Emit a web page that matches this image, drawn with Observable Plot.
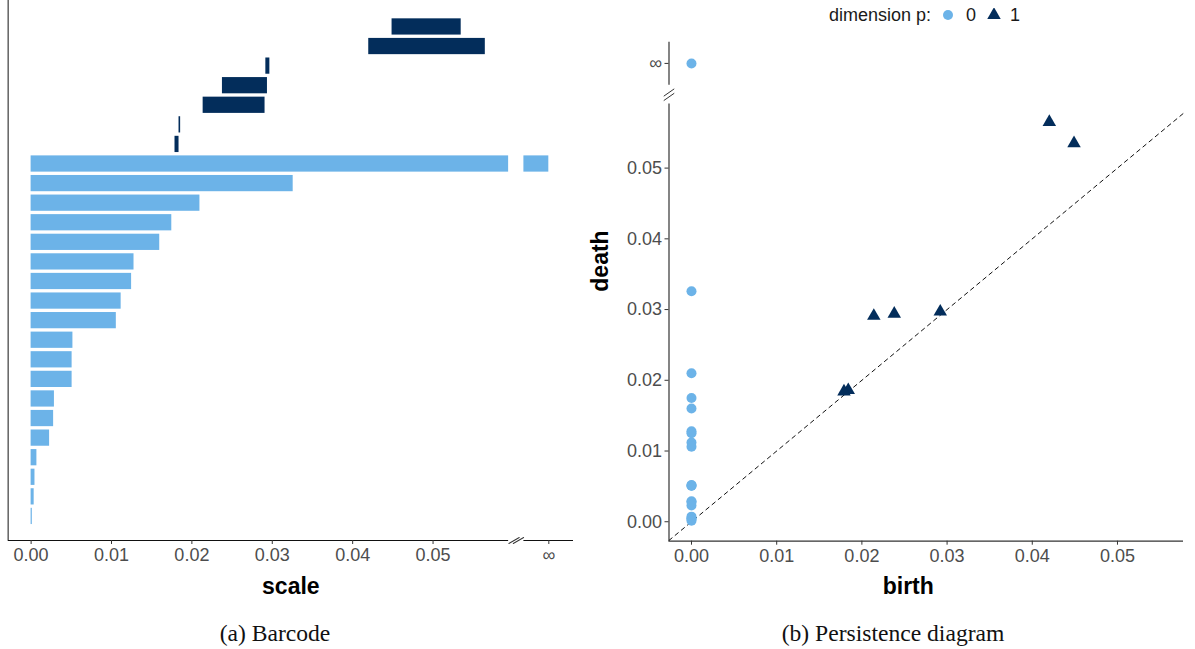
<!DOCTYPE html>
<html>
<head>
<meta charset="utf-8">
<script src="https://cdn.jsdelivr.net/npm/d3@7"></script>
<script src="https://cdn.jsdelivr.net/npm/@observablehq/plot@0.6"></script>
<style>
  body { margin: 0; background: #fff; font-family: "Liberation Sans", Arial, sans-serif; }
  #wrap { position: relative; width: 1195px; height: 649px; overflow: hidden; background: #fff; }
  #left { position: absolute; left: 0; top: 0; }
  #right { position: absolute; left: 595px; top: 30px; }
  .cap { position: absolute; top: 619px; font-family: "Liberation Serif", "Times New Roman", serif; font-size: 23.6px; line-height: 28px; color: #111; transform: translateX(-50%); white-space: nowrap; }
  #legend { position: absolute; left: 829px; top: 3px; height: 24px; display: flex; align-items: center; font-size: 18px; color: #1a1a1a; }
</style>
</head>
<body>
<div id="wrap">
  <div id="left"></div>
  <div id="legend"></div>
  <div id="right"></div>
  <div class="cap" style="left:275px">(a) Barcode</div>
  <div class="cap" style="left:893px">(b) Persistence diagram</div>
</div>
<script>
// ---------- data ----------
const dims = ["0", "1"];
// dimension 1 features (birth, death)
const h1Birth = [0.0449, 0.0420, 0.0292, 0.0238, 0.0214, 0.0184, 0.0179];
const h1Death = [0.0535, 0.0565, 0.0297, 0.0294, 0.0291, 0.0186, 0.0184];
// dimension 0 features (birth, death)
const h0Birth = [0, 0, 0, 0, 0, 0, 0, 0, 0, 0, 0, 0, 0, 0, 0, 0, 0, 0, 0];
const h0Death = [Infinity, 0.0326, 0.0210, 0.0175, 0.0160, 0.0128, 0.0125, 0.0112, 0.0106,
                 0.0052, 0.0051, 0.0051, 0.0029, 0.0028, 0.0023, 0.00072, 0.00048, 0.00038, 0.00015];
const xTicks = [0, 0.01, 0.02, 0.03, 0.04, 0.05];
const yTicks = [0, 0.01, 0.02, 0.03, 0.04, 0.05];
const infLabel = "\u221E";

// ---------- styles / layout ----------
const light = "#6CB3E8";
const dark = "#032D5B";
const tickFill = "#4d4d4d";
const font = "'Liberation Sans', Arial, sans-serif";
const tickFont = 18;

// left (barcode) scale layout, in data units
const xDomainL = [-0.00285, 0.06747];
const breakLo = 0.0594, breakHi = 0.0613, infX = 0.0644;
// right (diagram) scale layout, in data units
const xDomainR = [-0.00264, 0.05775];
const yDomainR = [-0.00275, 0.0678];
const yBreakLo = 0.05905, yBreakHi = 0.0617, infY = 0.0648;

const fmt = d3.format(".2f");
const slash = { draw(ctx, l) { ctx.moveTo(0, 0); ctx.lineTo(0, -l); } };
const breakMarks = (x, y, horizontal, rot) => [-2.2, 2.2].map(o =>
  Plot.vector([0], { x, y, dx: horizontal ? o : 0, dy: horizontal ? 0 : o,
    length: 12, rotate: rot, anchor: "middle", shape: slash, stroke: "#333", strokeWidth: 0.9 }));

// ---------- barcode ----------
const bars = [];
h1Birth.forEach((b, i) => bars.push({ row: i + 1, x1: b, x2: h1Death[i], dim: "1" }));
h0Death.forEach((d, i) => {
  const row = h1Birth.length + i + 1;
  if (d === Infinity) {
    bars.push({ row, x1: h0Birth[i], x2: breakLo, dim: "0" });
    bars.push({ row, x1: breakHi, x2: infX, dim: "0" });
  } else {
    bars.push({ row, x1: h0Birth[i], x2: d, dim: "0" });
  }
});
const nRows = h1Birth.length + h0Death.length;
const yBottomL = nRows + 1.229;

const leftPlot = Plot.plot({
  width: 590, height: 605,
  marginLeft: 7.7, marginRight: 17, marginTop: 0, marginBottom: 65,
  style: { fontFamily: font, fontSize: tickFont + "px", background: "white", overflow: "visible" },
  x: { domain: xDomainL, label: null },
  y: { domain: [-0.351, yBottomL], reverse: true, axis: null, label: null },
  color: { domain: dims, range: [light, dark] },
  marks: [
    Plot.rect(bars, { x1: "x1", x2: "x2", y1: d => d.row - 0.5, y2: d => d.row + 0.5,
                      insetTop: 1.67, insetBottom: 1.67, fill: "dim" }),
    Plot.ruleX([xDomainL[0]], { stroke: "#6b6b6b", strokeWidth: 1.6 }),
    Plot.ruleY([[xDomainL[0], breakLo], [breakHi, xDomainL[1]]],
               { y: () => yBottomL, x1: d => d[0], x2: d => d[1], stroke: "#111", strokeWidth: 1 }),
    ...breakMarks(() => (breakLo + breakHi) / 2, () => yBottomL, true, 60),
    Plot.axisX({ ticks: [...xTicks, infX], tickFormat: d => d === infX ? infLabel : fmt(d),
                 tickSize: 4, tickPadding: 4, fontSize: tickFont, fill: tickFill, stroke: "#333", label: null }),
    Plot.text(["scale"], { frameAnchor: "bottom", dy: 53, fontWeight: "bold", fontSize: 23, fill: "#000" })
  ]
});
document.getElementById("left").append(leftPlot);

// ---------- persistence diagram ----------
const pts = [];
h0Death.forEach((d, i) => pts.push({ b: h0Birth[i], d: d === Infinity ? infY : d, dim: "0" }));
h1Birth.forEach((b, i) => pts.push({ b, d: h1Death[i], dim: "1" }));

const rightPlot = Plot.plot({
  width: 600, height: 575,
  marginLeft: 73.5, marginRight: 12, marginTop: 11.7, marginBottom: 64.3,
  style: { fontFamily: font, fontSize: tickFont + "px", background: "white", overflow: "visible" },
  x: { domain: xDomainR, label: null },
  y: { domain: yDomainR, label: null },
  color: { domain: dims, range: [light, dark] },
  symbol: { domain: dims, range: ["circle", "triangle"] },
  marks: [
    Plot.ruleX([[yDomainR[0], yBreakLo], [yBreakHi, yDomainR[1]]],
               { x: () => xDomainR[0], y1: d => d[0], y2: d => d[1], stroke: "#333", strokeWidth: 1.2 }),
    Plot.ruleY([yDomainR[0]], { stroke: "#333", strokeWidth: 1.2 }),
    ...breakMarks(() => xDomainR[0], () => (yBreakLo + yBreakHi) / 2, false, 55),
    Plot.line(xDomainR, { x: d => d, y: d => d, stroke: "#111", strokeWidth: 1, strokeDasharray: "4,4" }),
    Plot.dot(pts, { x: "b", y: "d", fill: "dim", symbol: "dim", r: 5 }),
    Plot.axisX({ ticks: xTicks, tickFormat: fmt, tickSize: 4, tickPadding: 4,
                 fontSize: tickFont, fill: tickFill, stroke: "#333", label: null }),
    Plot.axisY({ ticks: [...yTicks, infY], tickFormat: d => d === infY ? infLabel : fmt(d),
                 tickSize: 4, tickPadding: 3, fontSize: tickFont, fill: tickFill, stroke: "#333", label: null }),
    Plot.text(["birth"], { frameAnchor: "bottom", dx: -18, dy: 52.5, fontWeight: "bold", fontSize: 23, fill: "#000" }),
    Plot.text(["death"], { frameAnchor: "left", dx: -68, rotate: -90, fontWeight: "bold", fontSize: 23, fill: "#000" })
  ]
});
document.getElementById("right").append(rightPlot);

// ---------- legend ----------
const legend = document.getElementById("legend");
const colorOf = { "0": light, "1": dark };
const title = document.createElement("span");
title.textContent = "dimension p:";
legend.append(title);
dims.forEach((k, i) => {
  const ns = "http://www.w3.org/2000/svg";
  const s = document.createElementNS(ns, "svg");
  s.setAttribute("width", 14); s.setAttribute("height", 14);
  s.style.marginLeft = i === 0 ? "10px" : "11px";
  const g = document.createElementNS(ns, "path");
  const sym = i === 0 ? d3.symbolCircle : d3.symbolTriangle;
  g.setAttribute("d", d3.symbol(sym, Math.PI * 25)());
  g.setAttribute("transform", "translate(7,7)");
  g.setAttribute("fill", colorOf[k]);
  s.append(g);
  legend.append(s);
  const t = document.createElement("span");
  t.textContent = k;
  t.style.marginLeft = i === 0 ? "11px" : "9px";
  legend.append(t);
});
</script>
</body>
</html>
